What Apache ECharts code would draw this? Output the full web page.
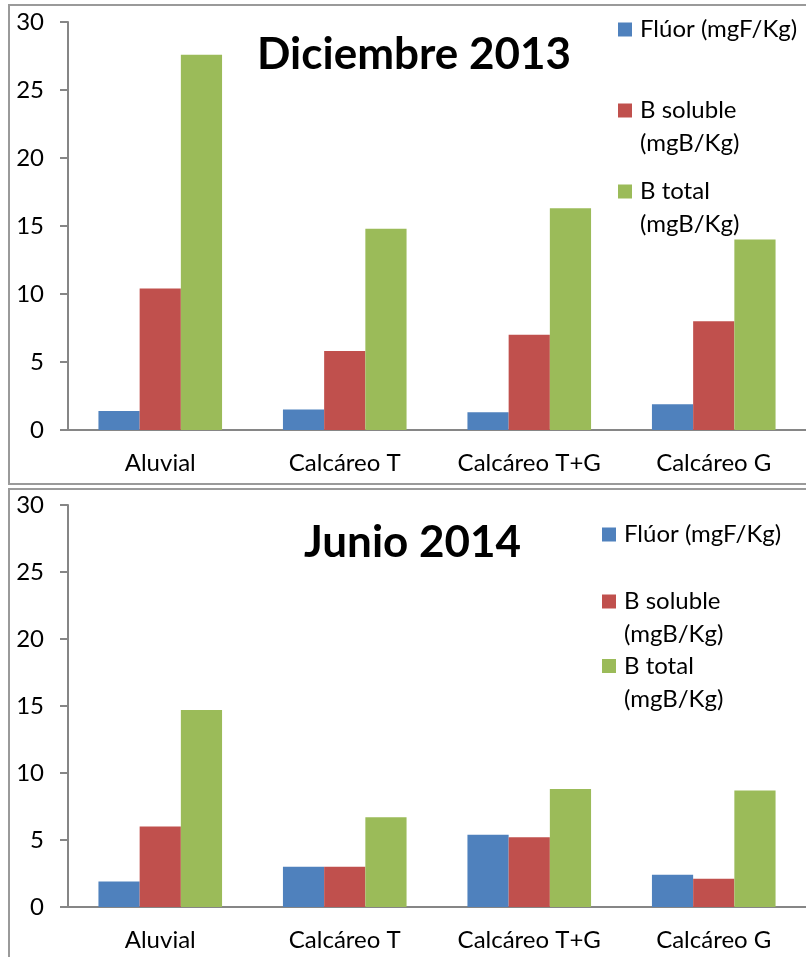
<!DOCTYPE html>
<html>
<head>
<meta charset="utf-8">
<script src="https://cdn.jsdelivr.net/npm/echarts@6/dist/echarts.min.js"></script>
<style>
html,body{margin:0;padding:0;background:#fff;}
#chart{width:806px;height:957px;}
</style>
</head>
<body>
<div id="chart"></div>
<script>
// ---- data ----
var categories = ['Aluvial', 'Calcáreo T', 'Calcáreo T+G', 'Calcáreo G'];
var seriesNames = ['Flúor (mgF/Kg)', 'B soluble\n(mgB/Kg)', 'B total\n(mgB/Kg)'];
var titles = ['Diciembre 2013', 'Junio 2014'];
var dic2013Fluor = [1.4, 1.5, 1.3, 1.9];
var dic2013BSoluble = [10.4, 5.8, 7.0, 8.0];
var dic2013BTotal = [27.6, 14.8, 16.3, 14.0];
var jun2014Fluor = [1.9, 3.0, 5.4, 2.4];
var jun2014BSoluble = [6.0, 3.0, 5.2, 2.1];
var jun2014BTotal = [14.7, 6.7, 8.8, 8.7];
var yTicks = [0, 5, 10, 15, 20, 25, 30];

var colors = ['#4F81BD', '#C0504D', '#9BBB59'];
var FONT = 'Lato';
var AX = '#868686';

var chart = echarts.init(document.getElementById('chart'), null, {renderer: 'canvas'});

var grids = [
  {left: 68, top: 22, width: 741, height: 408},
  {left: 68, top: 505, width: 741, height: 402}
];

function xAxis(i) {
  return {
    type: 'category', gridIndex: i, data: categories,
    axisLine: {lineStyle: {color: AX, width: 2}},
    axisTick: {show: false},
    axisLabel: {color: '#000', fontFamily: FONT, fontSize: 24, margin: 21, interval: 0}
  };
}
function yAxis(i) {
  return {
    type: 'value', gridIndex: i, min: yTicks[0], max: yTicks[yTicks.length - 1],
    interval: yTicks[1] - yTicks[0],
    axisLine: {show: true, lineStyle: {color: AX, width: 2}},
    axisTick: {show: true, length: 8, lineStyle: {color: AX, width: 2}},
    splitLine: {show: false},
    axisLabel: {color: '#000', fontFamily: FONT, fontSize: 24, margin: 24}
  };
}

var data = [
  [dic2013Fluor, dic2013BSoluble, dic2013BTotal],
  [jun2014Fluor, jun2014BSoluble, jun2014BTotal]
];

var series = [];
for (var g = 0; g < 2; g++) {
  for (var s = 0; s < 3; s++) {
    series.push({
      type: 'bar', name: seriesNames[s], xAxisIndex: g, yAxisIndex: g,
      data: data[g][s], barGap: '0%', barCategoryGap: '33%',
      itemStyle: {color: colors[s]},
      emphasis: {disabled: true}
    });
  }
}

var LH = 33;
function legend(name, left, iconCenter) {
  var twoLine = name.indexOf('\n') >= 0;
  // two-line names get a blank leading line so the icon lines up with the first text line
  var top = twoLine ? iconCenter - 1.5 * LH : iconCenter - LH / 2;
  return {
    data: [name], left: left, top: top, orient: 'vertical', padding: 0,
    itemWidth: 14, itemHeight: 14, icon: 'rect', selectedMode: false,
    formatter: function (n) { return n.indexOf('\n') >= 0 ? ' \n' + n : n; },
    textStyle: {color: '#000', fontFamily: FONT, fontSize: 24, lineHeight: LH, padding: [0, 0, 0, 3]}
  };
}

var legends = [
  legend(seriesNames[0], 618, 29.5),
  legend(seriesNames[1], 618, 110.5),
  legend(seriesNames[2], 618, 191.5),
  legend(seriesNames[0], 602, 534.5),
  legend(seriesNames[1], 602, 601.5),
  legend(seriesNames[2], 602, 666)
];

var option = {
  animation: false,
  backgroundColor: '#fff',
  title: [
    {text: titles[0], left: 257, top: 33, padding: 0,
     textStyle: {fontFamily: FONT, fontWeight: 'bold', fontSize: 44, lineHeight: 44, color: '#000'}},
    {text: titles[1], left: 304, top: 521, padding: 0,
     textStyle: {fontFamily: FONT, fontWeight: 'bold', fontSize: 44, lineHeight: 44, color: '#000'}}
  ],
  legend: legends,
  grid: grids,
  xAxis: [xAxis(0), xAxis(1)],
  yAxis: [yAxis(0), yAxis(1)],
  series: series,
  graphic: [
    {type: 'rect', shape: {x: 9, y: 5, width: 830, height: 479}, silent: true,
     style: {fill: 'none', stroke: '#9a9a9a', lineWidth: 2}},
    {type: 'rect', shape: {x: 9, y: 489, width: 830, height: 500}, silent: true,
     style: {fill: 'none', stroke: '#9a9a9a', lineWidth: 2}}
  ]
};
chart.setOption(option);
</script>
</body>
</html>
